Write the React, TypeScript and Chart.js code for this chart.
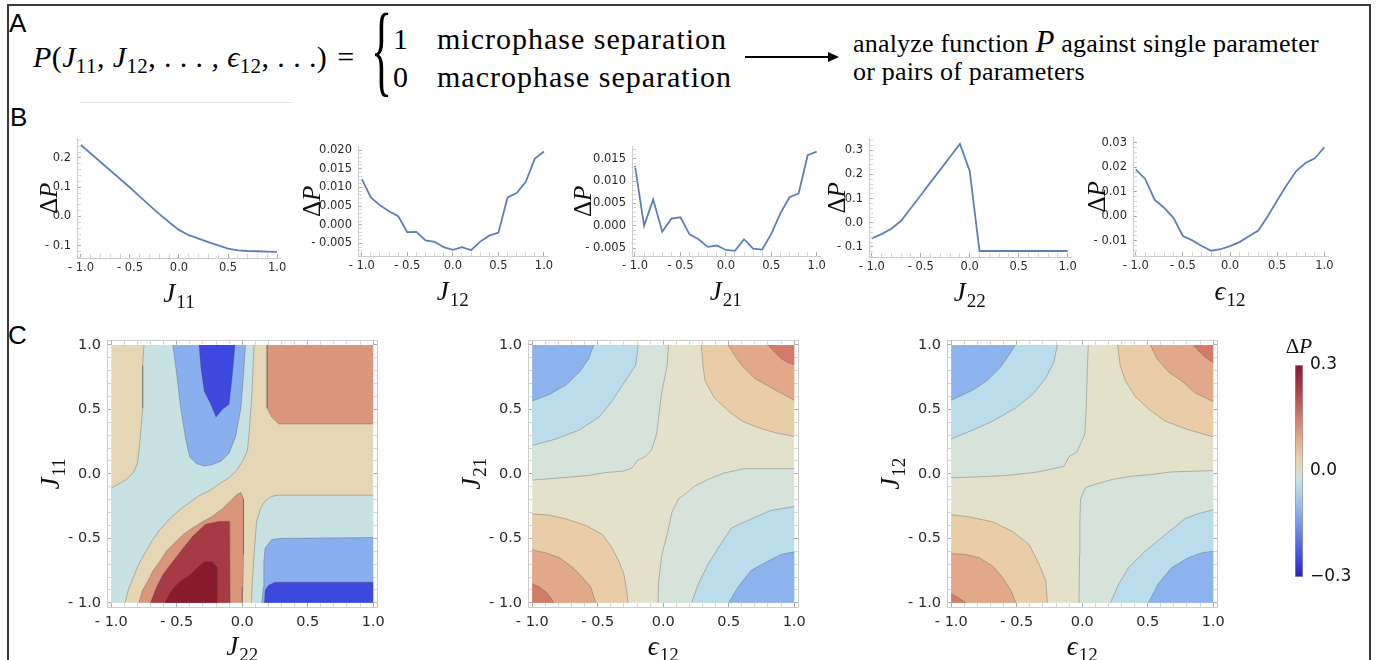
import React, { useEffect, useRef } from 'react';
import { Chart, registerables } from 'chart.js';
Chart.register(...registerables);

const SERIF = '"Liberation Serif", "DejaVu Serif", serif';
const SANS = '"DejaVu Sans", sans-serif';
Chart.defaults.font.family = SANS;

type Pt = [number, number];

// ---------------- Panel B data ----------------
const xGrid = [-1, -0.9, -0.8, -0.7, -0.6, -0.5, -0.4, -0.3, -0.2, -0.1, 0, 0.1, 0.2, 0.3, 0.4, 0.5, 0.6, 0.7, 0.8, 0.9, 1];
const dP_J11 = [0.244, 0.215, 0.186, 0.157, 0.128, 0.099, 0.068, 0.038, 0.008, -0.02, -0.046, -0.064, -0.076, -0.088, -0.099, -0.11, -0.116, -0.118, -0.119, -0.12, -0.121];
const dP_J12 = [0.0123, 0.0073, 0.0052, 0.0036, 0.0023, -0.002, -0.0019, -0.0042, -0.0046, -0.006, -0.0067, -0.006, -0.0068, -0.0045, -0.0029, -0.0021, 0.0073, 0.0085, 0.0115, 0.0177, 0.0196];
const dP_J21 = [0.0134, 0.0, 0.0059, -0.0013, 0.0016, 0.0019, -0.0019, -0.003, -0.0047, -0.0044, -0.0054, -0.0056, -0.003, -0.0051, -0.0053, -0.0018, 0.0028, 0.0064, 0.0072, 0.0158, 0.0166];
const dP_J22 = [-0.065, -0.047, -0.025, 0.008, 0.061, 0.114, 0.167, 0.22, 0.273, 0.326, 0.214, -0.117, -0.117, -0.117, -0.117, -0.117, -0.117, -0.117, -0.117, -0.117, -0.117];
const dP_eps12 = [0.0191, 0.0152, 0.0068, 0.0035, -0.0006, -0.008, -0.0098, -0.0121, -0.014, -0.0134, -0.0121, -0.0105, -0.0081, -0.0058, 0.0, 0.0064, 0.0126, 0.0183, 0.0217, 0.0236, 0.0281];

const xMajorTicks = [-1, -0.5, 0, 0.5, 1];
const yTicksJ11 = [-0.1, 0, 0.1, 0.2];
const yTicksJ12 = [-0.005, 0, 0.005, 0.01, 0.015, 0.02];
const yTicksJ21 = [-0.005, 0, 0.005, 0.01, 0.015];
const yTicksJ22 = [-0.1, 0, 0.1, 0.2, 0.3];
const yTicksEps = [-0.01, 0, 0.01, 0.02, 0.03];

// ---------------- Panel C data (contour lines, data units) ----------------
const c1BeigeCyanLeft: Pt[] = [[-0.75, 1], [-0.76, 0.84], [-0.76, 0.51], [-0.78, 0.26], [-0.8, 0.08], [-0.83, 0.01], [-0.88, -0.04], [-0.945, -0.08], [-1, -0.11]];
const c1BeigeCyanDiag: Pt[] = [[-0.894, -1], [-0.87, -0.9], [-0.83, -0.8], [-0.79, -0.7], [-0.74, -0.61], [-0.69, -0.52], [-0.63, -0.435], [-0.555, -0.35], [-0.48, -0.28], [-0.4, -0.22], [-0.33, -0.17], [-0.25, -0.13], [-0.18, -0.08], [-0.1, -0.03], [-0.04, 0.03], [0.01, 0.11], [0.04, 0.185], [0.055, 0.34], [0.075, 0.64], [0.09, 1]];
const c1BlueTop: Pt[] = [[-0.53, 1], [-0.5, 0.77], [-0.47, 0.51], [-0.43, 0.26], [-0.4, 0.13], [-0.35, 0.08], [-0.29, 0.06], [-0.23, 0.07], [-0.16, 0.1], [-0.1, 0.16], [-0.05, 0.29], [-0.01, 0.51], [0.01, 0.77], [0.025, 1]];
const c1DeepBlueTop: Pt[] = [[-0.33, 1], [-0.315, 0.82], [-0.29, 0.64], [-0.24, 0.54], [-0.2, 0.44], [-0.15, 0.5], [-0.1, 0.54], [-0.075, 0.77], [-0.055, 1]];
const c1CyanBR: Pt[] = [[0.07, -1], [0.075, -0.88], [0.09, -0.625], [0.1, -0.5], [0.11, -0.37], [0.14, -0.27], [0.175, -0.21], [0.225, -0.175], [0.28, -0.165], [1, -0.165]];
const c1BlueBR: Pt[] = [[0.15, -1], [0.16, -0.88], [0.165, -0.68], [0.175, -0.575], [0.225, -0.51], [0.3, -0.5], [1, -0.494]];
const c1DeepBlueBR: Pt[] = [[0.17, -1], [0.175, -0.9], [0.2, -0.865], [0.25, -0.84], [1, -0.84]];
const c1SalmonMid: Pt[] = [[-0.79, -1], [-0.76, -0.9], [-0.72, -0.83], [-0.68, -0.75], [-0.63, -0.68], [-0.58, -0.6], [-0.52, -0.54], [-0.45, -0.47], [-0.38, -0.42], [-0.3, -0.37], [-0.23, -0.33], [-0.15, -0.27], [-0.075, -0.195], [-0.04, -0.16], [-0.01, -0.145], [0.01, -0.195], [0.01, -0.37], [0.01, -0.625], [0.005, -0.88], [0, -1]];
const c1RedMid: Pt[] = [[-0.7, -1], [-0.655, -0.88], [-0.605, -0.78], [-0.53, -0.68], [-0.45, -0.575], [-0.38, -0.486], [-0.28, -0.39], [-0.18, -0.37], [-0.1, -0.367], [-0.095, -0.625], [-0.095, -1]];
const c1DarkRedMid: Pt[] = [[-0.59, -1], [-0.555, -0.93], [-0.52, -0.88], [-0.47, -0.83], [-0.42, -0.8], [-0.38, -0.765], [-0.33, -0.714], [-0.29, -0.68], [-0.23, -0.68], [-0.19, -0.727], [-0.19, -1]];
const c1SalmonTR: Pt[] = [[0.19, 1], [0.19, 0.51], [0.225, 0.44], [0.28, 0.387], [1, 0.387]];

const c2BlueTL: Pt[] = [[-0.53, 1], [-0.57, 0.89], [-0.64, 0.79], [-0.74, 0.69], [-0.87, 0.615], [-1, 0.565]];
const c2LightBlueTL: Pt[] = [[-0.19, 1], [-0.21, 0.84], [-0.29, 0.72], [-0.39, 0.565], [-0.49, 0.44], [-0.64, 0.34], [-0.82, 0.27], [-1, 0.22]];
const c2GreenTL: Pt[] = [[0.04, 1], [0.03, 0.84], [-0.01, 0.64], [-0.035, 0.44], [-0.05, 0.31], [-0.09, 0.185], [-0.14, 0.13], [-0.19, 0.11], [-0.24, 0.045], [-0.31, 0.02], [-0.44, 0.01], [-0.57, -0.013], [-0.69, -0.023], [-0.87, -0.038], [-1, -0.048]];
const c2GreenBR: Pt[] = [[-0.04, -1], [-0.035, -0.83], [-0.01, -0.625], [0.03, -0.47], [0.066, -0.3], [0.116, -0.195], [0.167, -0.157], [0.242, -0.094], [0.343, -0.043], [0.47, 0.008], [0.62, 0.04], [0.82, 0.04], [1, 0.04]];
const c2LightBlueBR: Pt[] = [[0.217, -1], [0.268, -0.853], [0.343, -0.7], [0.42, -0.575], [0.52, -0.42], [0.67, -0.35], [0.82, -0.284], [1, -0.253]];
const c2BlueBR: Pt[] = [[0.5, -1], [0.57, -0.88], [0.67, -0.75], [0.8, -0.676], [0.9, -0.625], [1, -0.605]];
const c2BeigeTR: Pt[] = [[0.29, 1], [0.306, 0.82], [0.32, 0.72], [0.39, 0.59], [0.495, 0.49], [0.6, 0.41], [0.72, 0.36], [0.85, 0.32], [1, 0.29]];
const c2SalmonTR: Pt[] = [[0.495, 1], [0.545, 0.92], [0.6, 0.84], [0.7, 0.74], [0.82, 0.67], [0.92, 0.615], [1, 0.57]];
const c2RedTR: Pt[] = [[0.8, 1], [0.85, 0.944], [0.9, 0.894], [0.95, 0.863], [1, 0.848]];
const c2BeigeBL: Pt[] = [[-1, -0.31], [-0.87, -0.32], [-0.74, -0.35], [-0.59, -0.4], [-0.465, -0.47], [-0.39, -0.575], [-0.34, -0.676], [-0.3, -0.777], [-0.283, -0.878], [-0.268, -1]];
const c2SalmonBL: Pt[] = [[-1, -0.59], [-0.894, -0.613], [-0.79, -0.651], [-0.69, -0.727], [-0.616, -0.803], [-0.553, -0.878], [-0.515, -1]];
const c2RedBL: Pt[] = [[-1, -0.853], [-0.944, -0.878], [-0.894, -0.916], [-0.83, -1]];

const c3BlueTL: Pt[] = [[-0.51, 1], [-0.56, 0.92], [-0.63, 0.82], [-0.73, 0.72], [-0.835, 0.65], [-1, 0.57]];
const c3LightBlueTL: Pt[] = [[-0.19, 1], [-0.215, 0.87], [-0.28, 0.74], [-0.38, 0.615], [-0.51, 0.51], [-0.68, 0.41], [-0.835, 0.34], [-1, 0.27]];
const c3GreenTL: Pt[] = [[0.046, 1], [0.038, 0.77], [0.03, 0.51], [0.02, 0.31], [-0.04, 0.17], [-0.1, 0.134], [-0.14, 0.058], [-0.23, 0.038], [-0.35, 0.013], [-0.58, -0.013], [-0.785, -0.023], [-1, -0.03]];
const c3BeigeTR: Pt[] = [[0.27, 1], [0.29, 0.84], [0.33, 0.72], [0.405, 0.6], [0.51, 0.5], [0.63, 0.41], [0.785, 0.35], [1, 0.286]];
const c3SalmonTR: Pt[] = [[0.52, 1], [0.57, 0.894], [0.66, 0.79], [0.76, 0.72], [0.86, 0.63], [1, 0.56]];
const c3RedTR: Pt[] = [[0.85, 1], [0.886, 0.957], [0.937, 0.906], [1, 0.863]];
const c3GreenBR: Pt[] = [[-0.025, -1], [-0.02, -0.625], [-0.018, -0.372], [-0.013, -0.195], [0.025, -0.106], [0.1, -0.081], [0.23, -0.043], [0.38, -0.018], [0.53, -0.005], [0.684, 0.015], [0.835, 0.02], [1, 0.025]];
const c3LightBlueBR: Pt[] = [[0.215, -1], [0.28, -0.853], [0.354, -0.727], [0.48, -0.6], [0.633, -0.473], [0.785, -0.347], [0.886, -0.309], [1, -0.278]];
const c3BlueBR: Pt[] = [[0.506, -1], [0.58, -0.853], [0.684, -0.727], [0.81, -0.651], [0.91, -0.613], [1, -0.6]];
const c3BeigeBL: Pt[] = [[-1, -0.316], [-0.86, -0.334], [-0.684, -0.372], [-0.53, -0.448], [-0.405, -0.549], [-0.33, -0.7], [-0.278, -0.828], [-0.266, -1]];
const c3SalmonBL: Pt[] = [[-1, -0.618], [-0.886, -0.625], [-0.785, -0.651], [-0.684, -0.714], [-0.608, -0.803], [-0.544, -0.904], [-0.506, -1]];
const c3RedBL: Pt[] = [[-1, -0.929], [-0.937, -0.967], [-0.886, -1]];

const cTickMajors = [-1, -0.5, 0, 0.5, 1];
const colorbarTicks = [-0.3, 0, 0.3];
const colorbarRange = [-0.3, 0.3];

// ---------------- colours ----------------
const LINE_BLUE = '#5E81B5';
const C1 = { beige: '#E5D6B6', cyan: '#C8E1E3', lblue: '#8AAFEE', dblue: '#3D48DE', salmon: '#D9967C', red: '#A83A45', dred: '#891A2C' };
const C2 = { mid: '#E3E1CA', green: '#D5E3DA', lblue: '#BBDCEA', blue: '#8CB3EE', beige: '#E8CDA8', salmon: '#E2A88A', red: '#D37B68' };
const colorbarStops: [number, string][] = [
  [0, '#2B1EC5'], [0.12, '#4A5BE2'], [0.25, '#7597EC'], [0.37, '#A7C8EF'], [0.46, '#C9E0E5'], [0.5, '#DDDCC9'],
  [0.56, '#E8CFAE'], [0.65, '#E3AC8E'], [0.75, '#CF7E6C'], [0.87, '#AF434D'], [1, '#8A1830'],
];

// ---------------- helpers ----------------
const TL: Pt = [-1, 1], TR: Pt = [1, 1], BL: Pt = [-1, -1], BR: Pt = [1, -1];
const SQUARE: Pt[] = [BL, BR, TR, TL];

const fmt = (v: number, d: number) => (v < -1e-12 ? '- ' + Math.abs(v).toFixed(d) : Math.abs(v).toFixed(d));
const isMajor = (v: number, majors: number[]) => majors.some((m) => Math.abs(m - v) < 1e-9);
function tickSet(majors: number[], min: number, max: number, sub: number) {
  const step = (majors[1] - majors[0]) / sub;
  const out: number[] = [];
  const k0 = Math.ceil(min / step - 1e-9), k1 = Math.floor(max / step + 1e-9);
  for (let k = k0; k <= k1; k++) out.push(+(k * step).toFixed(10));
  return out;
}

type Run = { t: string; font: string; dy?: number; gap?: number };
type TitleSpec = { x?: { runs: Run[]; offset: number }; y?: { runs: Run[]; offset: number }; top?: { runs: Run[]; offset: number } };

function drawRuns(ctx: CanvasRenderingContext2D, runs: Run[], cx: number, cy: number, rot: boolean) {
  ctx.save();
  ctx.translate(cx, cy);
  if (rot) ctx.rotate(-Math.PI / 2);
  ctx.textBaseline = 'alphabetic';
  ctx.textAlign = 'left';
  ctx.fillStyle = '#111';
  let total = 0;
  const ws = runs.map((r) => { ctx.font = r.font; const w = ctx.measureText(r.t).width + (r.gap || 0); total += w; return w; });
  let x = -total / 2;
  runs.forEach((r, i) => { ctx.font = r.font; ctx.fillText(r.t, x, r.dy || 0); x += ws[i]; });
  ctx.restore();
}
function titlePlugin(spec: TitleSpec) {
  return {
    id: 'mathTitle',
    afterDraw(chart: any) {
      const { ctx, chartArea: a } = chart;
      if (spec.x) drawRuns(ctx, spec.x.runs, chart.scales.x.getPixelForValue(0), a.bottom + spec.x.offset, false);
      if (spec.y) drawRuns(ctx, spec.y.runs, a.left - spec.y.offset, (a.top + a.bottom) / 2, true);
      if (spec.top) drawRuns(ctx, spec.top.runs, (a.left + a.right) / 2, a.top - spec.top.offset, false);
    },
  };
}

const IT = (s: number) => `italic ${s}px ${SERIF}`;
const RM = (s: number) => `${s}px ${SERIF}`;
const sym = (main: string, sub: string, size = 27): Run[] => [
  { t: main, font: IT(size), gap: 1 },
  { t: sub, font: RM(Math.round(size * 0.7)), dy: 6 },
];
const deltaP = (size: number): Run[] => [{ t: 'Δ', font: RM(size) }, { t: 'P', font: IT(size) }];

function frameAxis(o: { pos: string; min: number; max: number; majors: number[]; dec: number; sub: number; size: number; font: number; pad: number; labels: boolean }) {
  const horiz = o.pos === 'top' || o.pos === 'bottom';
  return {
    type: 'linear',
    position: o.pos,
    min: o.min,
    max: o.max,
    afterFit: (s: any) => { if (horiz) s.height = o.size; else s.width = o.size; },
    afterBuildTicks: (s: any) => { s.ticks = tickSet(o.majors, o.min, o.max, o.sub).map((value) => ({ value })); },
    grid: {
      drawOnChartArea: false, drawTicks: true, tickLength: -4, tickWidth: 1, z: 1,
      tickColor: (c: any) => (c.tick && isMajor(c.tick.value, o.majors) ? '#ababab' : '#d6d6d6'),
    },
    border: { display: true, color: '#cdcdcd', width: 1, z: 1 },
    ticks: {
      autoSkip: false, maxRotation: 0, minRotation: 0, padding: o.pad, color: '#2a2a2a',
      font: { family: SANS, size: o.font },
      callback: (v: number) => (o.labels && isMajor(v, o.majors) ? fmt(v, o.dec) : ''),
    },
  };
}

// ---------------- Panel B line charts ----------------
const BYW = 70, BPT = 10, BPR = 16, BXH = 56;
type BSpec = { values: number[]; rect: [number, number, number, number]; xr: [number, number]; yr: [number, number]; yMajors: number[]; dec: number; xRuns: Run[]; yOff: number };

function lineConfig(b: BSpec) {
  return {
    type: 'line',
    data: { datasets: [{ data: xGrid.map((x, i) => ({ x, y: b.values[i] })), borderColor: LINE_BLUE, borderWidth: 1.8, pointRadius: 0, tension: 0, fill: false }] },
    options: {
      animation: false, responsive: false, events: [],
      layout: { padding: { top: BPT, right: BPR, left: 0, bottom: 0 } },
      plugins: { legend: { display: false }, tooltip: { enabled: false } },
      scales: {
        x: frameAxis({ pos: 'bottom', min: b.xr[0], max: b.xr[1], majors: xMajorTicks, dec: 1, sub: 5, size: BXH, font: 11.5, pad: 7, labels: true }),
        y: frameAxis({ pos: 'left', min: b.yr[0], max: b.yr[1], majors: b.yMajors, dec: b.dec, sub: 5, size: BYW, font: 11.5, pad: 10, labels: true }),
      },
    },
    plugins: [titlePlugin({ x: { runs: b.xRuns, offset: 44 }, y: { runs: deltaP(25), offset: b.yOff } })],
  };
}

const bSpecs: BSpec[] = [
  { values: dP_J11, rect: [77, 132, 280, 258], xr: [-1.04, 1.03], yr: [-0.142, 0.265], yMajors: yTicksJ11, dec: 1, xRuns: sym('J', '11'), yOff: 20 },
  { values: dP_J12, rect: [358, 140, 547, 256], xr: [-1.041, 1.033], yr: [-0.00835, 0.02083], yMajors: yTicksJ12, dec: 3, xRuns: sym('J', '12'), yOff: 38 },
  { values: dP_J21, rect: [632, 140, 820, 256], xr: [-1.033, 1.036], yr: [-0.00675, 0.01767], yMajors: yTicksJ21, dec: 3, xRuns: sym('J', '21'), yOff: 41 },
  { values: dP_J22, rect: [869, 132, 1071, 257], xr: [-1.028, 1.034], yr: [-0.1418, 0.347], yMajors: yTicksJ22, dec: 1, xRuns: sym('J', '22'), yOff: 24 },
  { values: dP_eps12, rect: [1133, 131, 1328, 256], xr: [-1.029, 1.039], yr: [-0.01615, 0.0319], yMajors: yTicksEps, dec: 2, xRuns: sym('ϵ', '12'), yOff: 28 },
];

// ---------------- Panel C contour charts ----------------
const CYW = 70, CPT = 12, CPR = 16, CXH = 62, CR = 1.0325;
type Region = { poly: Pt[]; color: string };

const c1Regions: Region[] = [
  { poly: SQUARE, color: C1.beige },
  { poly: [...c1BeigeCyanLeft, BL, ...c1BeigeCyanDiag], color: C1.cyan },
  { poly: [...c1CyanBR, BR], color: C1.cyan },
  { poly: c1BlueTop, color: C1.lblue },
  { poly: c1DeepBlueTop, color: C1.dblue },
  { poly: [...c1BlueBR, BR], color: C1.lblue },
  { poly: [...c1DeepBlueBR, BR], color: C1.dblue },
  { poly: c1SalmonMid, color: C1.salmon },
  { poly: c1RedMid, color: C1.red },
  { poly: c1DarkRedMid, color: C1.dred },
  { poly: [...c1SalmonTR, TR], color: C1.salmon },
];
const c1Lines = [c1BeigeCyanLeft, c1BeigeCyanDiag, c1BlueTop, c1DeepBlueTop, c1CyanBR, c1BlueBR, c1DeepBlueBR, c1SalmonMid, c1RedMid, c1DarkRedMid, c1SalmonTR];

const c2Regions: Region[] = [
  { poly: SQUARE, color: C2.mid },
  { poly: [...c2GreenTL, TL], color: C2.green },
  { poly: [...c2LightBlueTL, TL], color: C2.lblue },
  { poly: [...c2BlueTL, TL], color: C2.blue },
  { poly: [...c2GreenBR, BR], color: C2.green },
  { poly: [...c2LightBlueBR, BR], color: C2.lblue },
  { poly: [...c2BlueBR, BR], color: C2.blue },
  { poly: [...c2BeigeTR, TR], color: C2.beige },
  { poly: [...c2SalmonTR, TR], color: C2.salmon },
  { poly: [...c2RedTR, TR], color: C2.red },
  { poly: [...c2BeigeBL, BL], color: C2.beige },
  { poly: [...c2SalmonBL, BL], color: C2.salmon },
  { poly: [...c2RedBL, BL], color: C2.red },
];
const c2Lines = [c2GreenTL, c2LightBlueTL, c2BlueTL, c2GreenBR, c2LightBlueBR, c2BlueBR, c2BeigeTR, c2SalmonTR, c2RedTR, c2BeigeBL, c2SalmonBL, c2RedBL];

const c3Regions: Region[] = [
  { poly: SQUARE, color: C2.mid },
  { poly: [...c3GreenTL, TL], color: C2.green },
  { poly: [...c3LightBlueTL, TL], color: C2.lblue },
  { poly: [...c3BlueTL, TL], color: C2.blue },
  { poly: [...c3GreenBR, BR], color: C2.green },
  { poly: [...c3LightBlueBR, BR], color: C2.lblue },
  { poly: [...c3BlueBR, BR], color: C2.blue },
  { poly: [...c3BeigeTR, TR], color: C2.beige },
  { poly: [...c3SalmonTR, TR], color: C2.salmon },
  { poly: [...c3RedTR, TR], color: C2.red },
  { poly: [...c3BeigeBL, BL], color: C2.beige },
  { poly: [...c3SalmonBL, BL], color: C2.salmon },
  { poly: [...c3RedBL, BL], color: C2.red },
];
const c3Lines = [c3GreenTL, c3LightBlueTL, c3BlueTL, c3GreenBR, c3LightBlueBR, c3BlueBR, c3BeigeTR, c3SalmonTR, c3RedTR, c3BeigeBL, c3SalmonBL, c3RedBL];

function contourConfig(regions: Region[], lines: Pt[][], xRuns: Run[], yRuns: Run[]) {
  const toXY = (p: Pt[]) => p.map(([x, y]) => ({ x, y }));
  const fills = regions.map((r) => ({
    data: toXY(r.poly), fill: 'shape', backgroundColor: r.color, borderColor: 'rgba(0,0,0,0)', borderWidth: 0, pointRadius: 0, tension: 0,
  }));
  const strokes = lines.map((l) => ({
    data: toXY(l), fill: false, borderColor: 'rgba(80,80,80,0.38)', borderWidth: 0.9, pointRadius: 0, tension: 0,
  }));
  const ax = (pos: string, size: number, labels: boolean, pad: number) =>
    frameAxis({ pos, min: -CR, max: CR, majors: cTickMajors, dec: 1, sub: 5, size, font: 14.5, pad, labels });
  return {
    type: 'line',
    data: { datasets: [...strokes, ...fills.reverse()] },
    options: {
      animation: false, responsive: false, events: [],
      layout: { padding: 0 },
      plugins: { legend: { display: false }, tooltip: { enabled: false } },
      scales: {
        x: ax('bottom', CXH, true, 11),
        y: ax('left', CYW, true, 10),
        xTop: { ...ax('top', CPT, false, 0), axis: 'x' },
        yRight: { ...ax('right', CPR, false, 0), axis: 'y' },
      },
    },
    plugins: [titlePlugin({ x: { runs: xRuns, offset: 48 }, y: { runs: yRuns, offset: 48 } })],
  };
}

function colorbarConfig() {
  return {
    type: 'bar',
    data: {
      labels: [''],
      datasets: [{
        data: [[colorbarRange[0], colorbarRange[1]]],
        backgroundColor: (c: any) => {
          const a = c.chart.chartArea;
          if (!a) return '#ccc';
          const g = c.chart.ctx.createLinearGradient(0, a.bottom, 0, a.top);
          colorbarStops.forEach(([p, col]) => g.addColorStop(p, col));
          return g;
        },
        borderColor: '#9a9a9a', borderWidth: 1, borderSkipped: false, barPercentage: 1, categoryPercentage: 1,
      }],
    },
    options: {
      animation: false, responsive: false, events: [],
      layout: { padding: { left: 15, top: 35, bottom: 23, right: 0 } },
      plugins: { legend: { display: false }, tooltip: { enabled: false } },
      scales: {
        x: { display: false },
        y: {
          position: 'right', min: colorbarRange[0], max: colorbarRange[1],
          afterFit: (s: any) => { s.width = 57; },
          afterBuildTicks: (s: any) => { s.ticks = colorbarTicks.map((value) => ({ value })); },
          grid: { display: false, drawTicks: false },
          border: { display: false },
          ticks: { padding: 7, color: '#111', font: { family: SANS, size: 17 }, callback: (v: number) => (v < 0 ? '\u2212' + Math.abs(v).toFixed(1) : v.toFixed(1)) },
        },
      },
    },
    plugins: [titlePlugin({ top: { runs: deltaP(21), offset: 12 } })],
  };
}

// ---------------- components ----------------
function ChartBox({ left, top, width, height, make }: { left: number; top: number; width: number; height: number; make: () => any }) {
  const ref = useRef<HTMLCanvasElement>(null);
  useEffect(() => {
    const chart = new Chart(ref.current as HTMLCanvasElement, make());
    return () => chart.destroy();
  }, []);
  return <canvas ref={ref} width={width} height={height} style={{ position: 'absolute', left, top, width, height }} />;
}

const abs = (left: number, top: number): React.CSSProperties => ({ position: 'absolute', left, top, whiteSpace: 'nowrap' });
const I = ({ children, size }: { children: React.ReactNode; size?: number }) => <span style={{ fontStyle: 'italic', fontSize: size }}>{children}</span>;
const Sub = ({ children }: { children: React.ReactNode }) => <span style={{ fontSize: 21, verticalAlign: '-6px', lineHeight: 0 }}>{children}</span>;
const panelLabel: React.CSSProperties = { fontFamily: '"Liberation Sans", Arial, sans-serif', fontSize: 26, lineHeight: '26px', color: '#000' };

export default function App() {
  const cRects: [number, number][] = [[107, 334], [528, 334], [947, 334]];
  const cMakers = [
    () => contourConfig(c1Regions, c1Lines, sym('J', '22'), sym('J', '11')),
    () => contourConfig(c2Regions, c2Lines, sym('ϵ', '12'), sym('J', '21')),
    () => contourConfig(c3Regions, c3Lines, sym('ϵ', '12'), sym('J', '12')),
  ];
  return (
    <div style={{ position: 'fixed', left: 0, top: 0, width: 1377, height: 660, background: '#fff', overflow: 'hidden' }}>
      <div style={{ position: 'absolute', left: 7, top: 4, width: 1364, height: 670, border: '2px solid #3a3a3a', boxSizing: 'border-box' }} />

      {/* Panel A */}
      <div style={{ ...abs(9, 10), ...panelLabel }}>A</div>
      <div style={{ ...abs(33, 42), fontFamily: SERIF, fontSize: 30, lineHeight: '30px', color: '#000', letterSpacing: 0.4 }}>
        <I>P</I>(<I>J</I><Sub>11</Sub>, <I>J</I><Sub>12</Sub>, . . . , <I>ϵ</I><Sub>12</Sub>, . . .) <span style={{ marginLeft: 2 }}>=</span>
      </div>
      <div style={{ ...abs(371, 0), fontFamily: SERIF, fontSize: 44, lineHeight: '44px', transform: 'scaleY(2.3)', transformOrigin: 'top left' }}>{'{'}</div>
      <div style={{ ...abs(393, 24), fontFamily: SERIF, fontSize: 30, lineHeight: '30px' }}>1</div>
      <div style={{ ...abs(437, 24), fontFamily: SERIF, fontSize: 30, lineHeight: '30px', letterSpacing: 1 }}>microphase separation</div>
      <div style={{ ...abs(393, 62), fontFamily: SERIF, fontSize: 30, lineHeight: '30px' }}>0</div>
      <div style={{ ...abs(437, 62), fontFamily: SERIF, fontSize: 30, lineHeight: '30px', letterSpacing: 1 }}>macrophase separation</div>
      <div style={{ position: 'absolute', left: 745, top: 56, width: 84, height: 2, background: '#000' }} />
      <div style={{ position: 'absolute', left: 828, top: 52, width: 0, height: 0, borderLeft: '11px solid #000', borderTop: '5px solid transparent', borderBottom: '5px solid transparent' }} />
      <div style={{ ...abs(853, 29), fontFamily: SERIF, fontSize: 26, lineHeight: '26px', letterSpacing: 0.2 }}>
        analyze function <I size={31}>P</I> against single parameter
      </div>
      <div style={{ ...abs(853, 59), fontFamily: SERIF, fontSize: 26, lineHeight: '26px', letterSpacing: 0.2 }}>or pairs of parameters</div>
      <div style={{ position: 'absolute', left: 80, top: 102, width: 213, height: 1, background: '#e6e6e6' }} />

      {/* Panel B */}
      <div style={{ ...abs(10, 104), ...panelLabel }}>B</div>
      {bSpecs.map((b, i) => {
        const [L, T, R, B] = b.rect;
        return <ChartBox key={'b' + i} left={L - BYW} top={T - BPT} width={BYW + (R - L) + BPR} height={BPT + (B - T) + BXH} make={() => lineConfig(b)} />;
      })}

      {/* Panel C */}
      <div style={{ ...abs(8, 322), ...panelLabel }}>C</div>
      {cRects.map(([L, T], i) => (
        <ChartBox key={'c' + i} left={L - CYW} top={T - CPT} width={CYW + 273 + CPR} height={CPT + 273 + CXH} make={cMakers[i]} />
      ))}
      <ChartBox left={1280} top={330} width={80} height={270} make={colorbarConfig} />
    </div>
  );
}
